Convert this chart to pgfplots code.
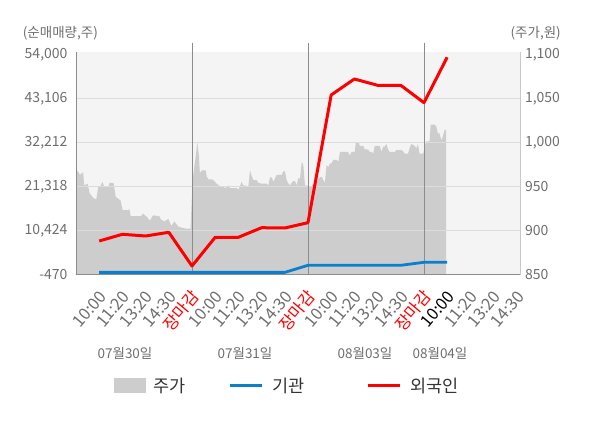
\documentclass[border=0pt]{standalone}
\usepackage{pgfplots}
\pgfplotsset{compat=1.18}
\usepackage{fontspec}
\setmainfont{Noto Sans CJK KR}
\definecolor{bgc}{HTML}{F4F4F4}
\definecolor{areac}{HTML}{CDCDCD}
\definecolor{gridc}{HTML}{DCDCDC}
\definecolor{sepc}{HTML}{8C8C8C}
\definecolor{rax}{HTML}{C8C8C8}
\definecolor{txtc}{HTML}{6E6E6E}
\definecolor{legc}{HTML}{333333}
\definecolor{redc}{HTML}{FF0000}
\definecolor{bluec}{HTML}{0A80CC}
\newcommand{\tkfont}{\fontsize{14pt}{16pt}\selectfont}
\newcommand{\xtkfont}{\fontsize{16.5pt}{18pt}\selectfont}
\newcommand{\smfont}{\fontsize{13.5pt}{15pt}\selectfont}
\newcommand{\lgfont}{\fontsize{17.5pt}{19pt}\selectfont}

\pgfplotstableread{
u price
0.00 946
0.04 968
0.11 966
0.17 963
0.31 966
0.35 951
0.50 953
0.59 942
0.74 937
0.87 935
0.96 949
1.05 950
1.14 955
1.22 949
1.40 949
1.44 954
1.62 954
1.71 938
1.92 934
2.01 923
2.23 923
2.30 924
2.36 916
2.65 916
2.80 916
2.89 919
3.06 915
3.19 911
3.32 917
3.59 916
3.67 912
3.81 910
3.98 913
4.11 905
4.24 910
4.42 904
4.55 903
4.72 902
4.94 902
5.02 955
5.09 970
5.16 984
5.23 1000
5.30 984
5.34 965
5.42 968
5.60 968
5.63 961
5.71 958
5.85 958
5.92 957
5.99 955
6.06 953
6.21 950
6.35 950
6.42 948
6.50 949
6.57 951
6.64 948
6.93 948
7.00 946
7.07 950
7.14 955
7.21 951
7.28 951
7.43 950
7.50 968
7.57 962
7.65 957
7.79 957
7.86 954
8.00 953
8.22 953
8.29 951
8.36 960
8.44 960
8.51 955
8.58 959
8.65 963
8.87 963
8.94 967
9.01 967
9.08 957
9.16 953
9.22 951
9.30 954
9.37 956
9.44 956
9.51 951
9.58 959
9.66 959
9.73 978
9.80 974
9.87 951
9.97 951
10.04 950
10.16 950
10.23 953
10.37 953
10.45 959
10.59 961
10.66 957
10.73 954
10.80 974
10.88 972
10.95 976
11.02 976
11.09 980
11.23 980
11.31 978
11.38 989
11.73 989
11.80 985
11.88 989
12.02 989
12.06 1000
12.19 1000
12.23 996
12.38 996
12.45 992
12.59 992
12.66 989
12.74 989
12.81 987
12.88 996
13.09 996
13.17 989
13.24 995
13.31 995
13.38 998
13.45 992
13.52 989
13.74 989
13.81 991
14.02 991
14.10 990
14.17 987
14.31 987
14.38 993
14.45 998
14.60 996
14.67 993
14.74 998
14.81 987
14.97 987
15.03 995
15.10 1001
15.24 1001
15.29 1020
15.46 1020
15.53 1018
15.60 1010
15.67 1010
15.75 1002
15.82 1007
15.89 1014
15.96 1014
}\pricetable

\pgfplotstableread{
u inst foreign
1 0 7775
2 0 9434
3 0 9013
4 0 9929
5 0 1585
6 0 8691
7 0 8691
8 0 11068
9 0 10994
10 1758 12306
11 1758 43925
12 1758 47886
13 1758 46326
14 1758 46326
15 2501 42018
16 2501 53259
}\flowtable

\begin{document}
\begin{tikzpicture}[x=1pt,y=1pt]
\useasboundingbox (0,0) rectangle (600,428);
% price axis (right)
\begin{axis}[
  at={(76pt,153.7pt)}, anchor=south west, scale only axis,
  width=444pt, height=222.3pt,
  xmin=0, xmax=19.14, ymin=850, ymax=1102.6,
  axis x line=none, axis y line*=right,
  y axis line style={draw=rax, line width=0.8pt},
  axis background/.style={fill=bgc},
  scaled y ticks=false,
  ytick={850,900,950,1000,1050,1100},
  yticklabels={850,900,950,{1,000},{1,050},{1,100}},
  yticklabel style={font=\tkfont, text=txtc, anchor=west, xshift=1.5pt},
  major tick length=0pt,
]
\addplot[fill=areac, draw=none] table[x=u, y=price] {\pricetable} \closedcycle;
\end{axis}
% flow axis (left)
\begin{axis}[
  at={(76pt,153.7pt)}, anchor=south west, scale only axis,
  width=444pt, height=222.3pt,
  xmin=0, xmax=19.14, ymin=-470, ymax=54570,
  axis x line*=bottom, axis y line*=left,
  x axis line style={draw=sepc, line width=0.8pt},
  y axis line style={draw=sepc, line width=0.8pt},
  scaled y ticks=false,
  ytick={-470,10424,21318,32212,43106},
  yticklabels={{-470},{10,424},{21,318},{32,212},{43,106}},
  extra y ticks={54000}, extra y tick labels={54{,}000},
  extra y tick style={grid=none},
  ymajorgrids, major grid style={draw=gridc, line width=0.8pt},
  yticklabel style={font=\tkfont, text=txtc, anchor=east, xshift=-5pt},
  xtick={1,...,19},
  xticklabels={10:00,11:20,13:20,14:30,\textcolor{redc}{장마감},
               10:00,11:20,13:20,14:30,\textcolor{redc}{장마감},
               10:00,11:20,13:20,14:30,\textcolor{redc}{장마감},
               \textcolor{black}{10:00},11:20,13:20,14:30},
  xticklabel style={font=\xtkfont, text=txtc, rotate=50, anchor=east, inner sep=1pt, xshift=-11pt, yshift=-15pt},
  major tick length=0pt,
  clip=false,
]
\foreach \d in {5,10,15} {
  \edef\tmp{\noexpand\draw[sepc, line width=0.8pt] (axis cs:\d,54570) ++(0,7pt) -- (axis cs:\d,-470) -- ++(0,-3pt);}
  \tmp
}
\draw[sepc, line width=0.8pt] (axis cs:0,-470) -- ++(0,-3pt);
\draw[rax, line width=0.8pt] (axis cs:19.14,-470) -- ++(0,-3pt);
\addplot[bluec, line width=2.8pt, line join=round] table[x=u, y=inst] {\flowtable};
\addplot[redc, line width=3pt, line join=round] table[x=u, y=foreign] {\flowtable};
\end{axis}
% titles
\node[anchor=west, font=\smfont, text=txtc, inner sep=0pt] at (22.7,395) {(순매매량,주)};
\node[anchor=east, font=\smfont, text=txtc, inner sep=0pt] at (561,395) {(주가,원)};
% dates
\node[font=\smfont, text=txtc] at (125,75) {07월30일};
\node[font=\smfont, text=txtc] at (245,75) {07월31일};
\node[font=\smfont, text=txtc] at (365,75) {08월03일};
\node[font=\smfont, text=txtc] at (440,75) {08월04일};
% legend
\fill[areac] (114,35.3) rectangle (146,49.7);
\node[anchor=west, font=\lgfont, text=legc, inner sep=0pt] at (153,42) {주가};
\draw[bluec, line width=3pt] (230,42) -- (262,42);
\node[anchor=west, font=\lgfont, text=legc, inner sep=0pt] at (272,42) {기관};
\draw[redc, line width=3pt] (368,42) -- (400,42);
\node[anchor=west, font=\lgfont, text=legc, inner sep=0pt] at (410,42) {외국인};
\end{tikzpicture}
\end{document}
